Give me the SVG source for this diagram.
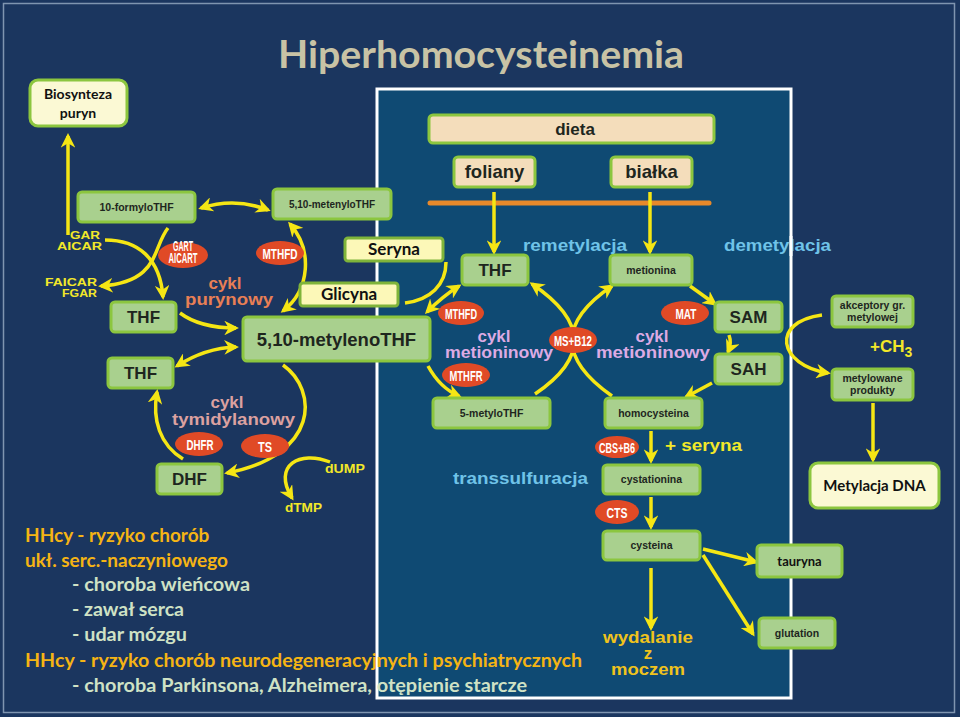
<svg xmlns="http://www.w3.org/2000/svg" width="960" height="717" viewBox="0 0 960 717">
<style>
.box{fill:#a9d08e;stroke:#8cc63f;stroke-width:3}
.cream{fill:#fbf9d4;stroke:#8cc63f;stroke-width:3}
.peach{fill:#f4ddbb;stroke:#8cc63f;stroke-width:3}
.yel{fill:#fcf8b8;stroke:#7fb43a;stroke-width:3}
.ell{fill:#e04a26}
.t{font-family:"Liberation Sans",Arial,sans-serif;font-weight:bold;fill:#1e261e;text-anchor:middle}
.c{font-family:Lato,"Liberation Sans",sans-serif;font-weight:bold;fill:#111;text-anchor:middle}
.e{font-family:"Liberation Sans",Arial,sans-serif;font-weight:bold;fill:#fff;text-anchor:middle;font-size:15px}
.lbl{font-family:"Liberation Sans",Arial,sans-serif;font-weight:bold;font-size:17px}
.ylw{font-family:"Liberation Sans",Arial,sans-serif;font-weight:bold;fill:#f2e829}
.arr{fill:none;stroke:#f5e614;stroke-width:3.5;marker-end:url(#ah)}
.dbl{fill:none;stroke:#f5e614;stroke-width:3.5;marker-end:url(#ah);marker-start:url(#ah)}
.ln{fill:none;stroke:#f5e614;stroke-width:3.5}
.bt{font-family:Lato,"Liberation Sans",sans-serif;font-weight:bold;font-size:19px}
</style>
<defs>
<marker id="ah" viewBox="0 0 10 10" refX="8" refY="5" markerWidth="4.2" markerHeight="4.2" orient="auto-start-reverse" markerUnits="strokeWidth">
<path d="M0,0 L10,5 L0,10 L3,5 z" fill="#f5e614"/>
</marker>
</defs>
<rect x="0" y="0" width="960" height="717" fill="#1b365f"/>
<rect x="3.5" y="3.5" width="951" height="709" fill="none" stroke="#7f95b0" stroke-width="1.5"/>
<rect id="panel" x="377" y="89" width="414" height="609" fill="#0f4a73" stroke="#ffffff" stroke-width="3"/>
<text x="278" y="68" font-family="Lato,'Liberation Sans',sans-serif" font-weight="bold" font-size="38" fill="#c8c3a5" textLength="406" lengthAdjust="spacingAndGlyphs">Hiperhomocysteinemia</text>
<line x1="430" y1="203" x2="709" y2="203" stroke="#e8892a" stroke-width="5" stroke-linecap="round"/>
<g id="connectors">
<path class="arr" d="M68,235 L68,136"/>
<path class="arr" d="M105,240 C138,240 160,258 163,297"/>
<path class="arr" d="M168,228 C152,248 160,282 101,286"/>
<path class="dbl" d="M201,208 Q235,197 268,210"/>
<path class="dbl" d="M290,224 C313,250 310,290 283,311"/>
<path class="arr" d="M180,313 Q200,328 236,328"/>
<path class="dbl" d="M236,347 Q205,348 177,366"/>
<path class="arr" d="M283,365 C318,390 320,455 227,473"/>
<path class="arr" d="M183,459 C160,445 152,420 157,392"/>
<path class="arr" d="M330,462 C300,450 272,465 292,498"/>
<path class="ln" d="M446,262 C446,285 430,300 405,303"/>
<path class="dbl" d="M427,312 Q443,296 459,286"/>
<path class="arr" d="M428,366 Q440,388 459,396"/>
<path class="arr" d="M494,192 L494,252"/>
<path class="arr" d="M650,192 L650,252"/>
<path class="arr" d="M535,394 Q615,340 532,284"/>
<path class="arr" d="M612,396 Q532,340 612,286"/>
<path class="arr" d="M690,286 L715,304"/>
<path class="arr" d="M729,335 Q732,343 728,352"/>
<path class="arr" d="M712,383 L686,397"/>
<path class="arr" d="M651,431 L651,461"/>
<path class="arr" d="M651,497 L651,527"/>
<path class="arr" d="M703,549 L756,562"/>
<path class="arr" d="M703,555 L753,634"/>
<path class="arr" d="M651,568 L651,628"/>
<path class="arr" d="M822,315 C770,322 778,365 828,373"/>
<path class="arr" d="M873,403 L873,460"/>
</g>
<g id="bios"><rect class="cream" x="30" y="80" width="97" height="46" rx="8"/><text class="c" x="78" y="99" font-size="14">Biosynteza</text><text class="c" x="78" y="118" font-size="14">puryn</text></g>
<g id="formylo"><rect class="box" x="78" y="192" width="117" height="30" rx="4"/><text class="t" x="136.5" y="211" font-size="10.5">10-formyloTHF</text></g>
<g id="metenylo"><rect class="box" x="273" y="189" width="118" height="30" rx="4"/><text class="t" x="332" y="208" font-size="10">5,10-metenyloTHF</text></g>
<g id="thf1"><rect class="box" x="111" y="302" width="65" height="30" rx="4"/><text class="t" x="143.5" y="323" font-size="17">THF</text></g>
<g id="thf2"><rect class="box" x="108" y="358" width="65" height="30" rx="4"/><text class="t" x="140.5" y="379" font-size="17">THF</text></g>
<g id="metyleno"><rect class="box" x="243" y="317" width="187" height="44" rx="4"/><text class="t" x="336.5" y="346" font-size="18.5">5,10-metylenoTHF</text></g>
<g id="dhf"><rect class="box" x="157" y="464" width="65" height="30" rx="4"/><text class="t" x="189.5" y="485" font-size="17">DHF</text></g>
<g id="seryna"><rect class="yel" x="345" y="238" width="98" height="23" rx="3"/><text class="c" x="394" y="255" font-size="17">Seryna</text></g>
<g id="glicyna"><rect class="yel" x="300" y="283" width="98" height="23" rx="3"/><text class="c" x="349" y="300" font-size="17">Glicyna</text></g>
<g id="dieta"><rect class="peach" x="429" y="115" width="285" height="28" rx="4"/><text class="t" x="575" y="135" font-size="17">dieta</text></g>
<g id="foliany"><rect class="peach" x="454" y="157" width="81" height="30" rx="4"/><text class="t" x="494.5" y="178" font-size="18.5">foliany</text></g>
<g id="bialka"><rect class="peach" x="611" y="157" width="81" height="30" rx="4"/><text class="t" x="651.5" y="178" font-size="18.5">białka</text></g>
<g id="thf3"><rect class="box" x="462" y="255" width="66" height="30" rx="4"/><text class="t" x="495" y="276" font-size="17">THF</text></g>
<g id="metionina"><rect class="box" x="610" y="255" width="82" height="30" rx="4"/><text class="t" x="651" y="274" font-size="10.5">metionina</text></g>
<g id="metyloTHF"><rect class="box" x="433" y="398" width="117" height="30" rx="4"/><text class="t" x="491.5" y="417" font-size="10.5">5-metyloTHF</text></g>
<g id="homocysteina"><rect class="box" x="605" y="398" width="97" height="30" rx="4"/><text class="t" x="653.5" y="417" font-size="10.5">homocysteina</text></g>
<g id="sam"><rect class="box" x="715" y="302" width="67" height="30" rx="4"/><text class="t" x="748.5" y="323" font-size="17">SAM</text></g>
<g id="sah"><rect class="box" x="715" y="354" width="67" height="30" rx="4"/><text class="t" x="748.5" y="375" font-size="17">SAH</text></g>
<g id="cystationina"><rect class="box" x="603" y="465" width="97" height="29" rx="4"/><text class="t" x="651.5" y="483" font-size="10.5">cystationina</text></g>
<g id="cysteina"><rect class="box" x="603" y="531" width="97" height="29" rx="4"/><text class="t" x="651.5" y="549" font-size="10.5">cysteina</text></g>
<g id="tauryna"><rect class="box" x="757" y="545" width="85" height="32" rx="4"/><text class="c" x="799.5" y="566" font-size="13">tauryna</text></g>
<g id="glutation"><rect class="box" x="759" y="618" width="76" height="30" rx="4"/><text class="t" x="797" y="637" font-size="10.5">glutation</text></g>
<g id="akceptory"><rect class="box" x="832" y="296" width="81" height="31" rx="4"/><text class="t" x="872.5" y="309" font-size="10.5">akceptory gr.</text><text class="t" x="872.5" y="321" font-size="10.5">metylowej</text></g>
<g id="metylowane"><rect class="box" x="832" y="369" width="81" height="31" rx="4"/><text class="t" x="872.5" y="382" font-size="10.5">metylowane</text><text class="t" x="872.5" y="394" font-size="10.5">produkty</text></g>
<g id="metylacja"><rect class="cream" x="810" y="463" width="129" height="45" rx="8"/><text class="c" x="874.5" y="491" font-size="15">Metylacja DNA</text></g>
<g id="enzymes">
<ellipse class="ell" cx="183" cy="255" rx="25" ry="13"/><text class="e" x="183" y="251" font-size="8" textLength="20" lengthAdjust="spacingAndGlyphs">GART</text><text class="e" x="183" y="263" font-size="8" textLength="29" lengthAdjust="spacingAndGlyphs">AICART</text>
<ellipse class="ell" cx="280" cy="253" rx="24" ry="12"/><text class="e" x="280" y="259" textLength="35" lengthAdjust="spacingAndGlyphs">MTHFD</text>
<ellipse class="ell" cx="461" cy="313" rx="23" ry="12"/><text class="e" x="461" y="319" textLength="32" lengthAdjust="spacingAndGlyphs">MTHFD</text>
<ellipse class="ell" cx="466" cy="375" rx="24" ry="12"/><text class="e" x="466" y="381" textLength="33" lengthAdjust="spacingAndGlyphs">MTHFR</text>
<ellipse class="ell" cx="573" cy="340" rx="24" ry="13"/><text class="e" x="573" y="346" textLength="38" lengthAdjust="spacingAndGlyphs">MS+B12</text>
<ellipse class="ell" cx="685" cy="313" rx="24" ry="12"/><text class="e" x="686" y="319" textLength="21" lengthAdjust="spacingAndGlyphs">MAT</text>
<ellipse class="ell" cx="199" cy="444" rx="24" ry="12"/><text class="e" x="200" y="450" textLength="27" lengthAdjust="spacingAndGlyphs">DHFR</text>
<ellipse class="ell" cx="265" cy="446" rx="24" ry="12"/><text class="e" x="265" y="452" textLength="14" lengthAdjust="spacingAndGlyphs">TS</text>
<ellipse class="ell" cx="617" cy="447" rx="22" ry="11"/><text class="e" x="617" y="453" textLength="36" lengthAdjust="spacingAndGlyphs">CBS+B6</text>
<ellipse class="ell" cx="617" cy="512" rx="22" ry="12"/><text class="e" x="617" y="518" textLength="21" lengthAdjust="spacingAndGlyphs">CTS</text>
</g>
<g id="labels">
<text class="ylw" x="70" y="238.5" font-size="10" textLength="30" lengthAdjust="spacingAndGlyphs">GAR</text>
<text class="ylw" x="57" y="249.5" font-size="10" textLength="45" lengthAdjust="spacingAndGlyphs">AICAR</text>
<text class="ylw" x="45" y="286" font-size="10" textLength="52" lengthAdjust="spacingAndGlyphs">FAICAR</text>
<text class="ylw" x="62" y="297" font-size="10" textLength="35" lengthAdjust="spacingAndGlyphs">FGAR</text>
<text class="ylw" x="325" y="473" font-size="12" textLength="40" lengthAdjust="spacingAndGlyphs">dUMP</text>
<text class="ylw" x="285" y="512" font-size="12" textLength="37" lengthAdjust="spacingAndGlyphs">dTMP</text>
<text class="lbl" x="225" y="289" fill="#e87f55" text-anchor="middle">cykl</text>
<text class="lbl" x="185" y="305" fill="#e87f55" textLength="88" lengthAdjust="spacingAndGlyphs">purynowy</text>
<text class="lbl" x="227" y="408" fill="#dca1a0" text-anchor="middle">cykl</text>
<text class="lbl" x="172" y="425" fill="#dca1a0" textLength="123" lengthAdjust="spacingAndGlyphs">tymidylanowy</text>
<text class="lbl" x="494" y="342" fill="#dcaae4" text-anchor="middle">cykl</text>
<text class="lbl" x="445" y="358" fill="#dcaae4" textLength="108" lengthAdjust="spacingAndGlyphs">metioninowy</text>
<text class="lbl" x="652" y="342" fill="#dcaae4" text-anchor="middle">cykl</text>
<text class="lbl" x="596" y="358" fill="#dcaae4" textLength="114" lengthAdjust="spacingAndGlyphs">metioninowy</text>
<text class="lbl" x="523" y="251" fill="#6fc3e8" textLength="104" lengthAdjust="spacingAndGlyphs">remetylacja</text>
<text class="lbl" x="724" y="251" fill="#6fc3e8" textLength="107" lengthAdjust="spacingAndGlyphs">demetylacja</text>
<text class="lbl" x="453" y="484" fill="#6fc3e8" textLength="135" lengthAdjust="spacingAndGlyphs">transsulfuracja</text>
<text class="lbl" x="665" y="451" fill="#f2e829" textLength="77" lengthAdjust="spacingAndGlyphs">+ seryna</text>
<text class="lbl" x="870" y="352" fill="#f2e829">+CH<tspan font-size="14" dy="5">3</tspan></text>
<text class="lbl" x="648" y="643" fill="#f0c31c" text-anchor="middle" textLength="90" lengthAdjust="spacingAndGlyphs">wydalanie</text>
<text class="lbl" x="648" y="659" fill="#f0c31c" text-anchor="middle">z</text>
<text class="lbl" x="648" y="675" fill="#f0c31c" text-anchor="middle" textLength="74" lengthAdjust="spacingAndGlyphs">moczem</text>
</g>
<line x1="791" y1="236" x2="791" y2="256" stroke="#ffffff" stroke-width="3"/>
<g id="notes">
<text class="bt" x="25" y="542" fill="#f5b414" font-size="16">HHcy  - ryzyko chorób</text>
<text class="bt" x="25" y="567" fill="#f5b414" font-size="16">ukł.  serc.-naczyniowego</text>
<text class="bt" x="72" y="591" fill="#cfe2c5" textLength="178" lengthAdjust="spacingAndGlyphs">- choroba wieńcowa</text>
<text class="bt" x="72" y="616" fill="#cfe2c5" textLength="112" lengthAdjust="spacingAndGlyphs">- zawał serca</text>
<text class="bt" x="72" y="641" fill="#cfe2c5" textLength="115" lengthAdjust="spacingAndGlyphs">- udar mózgu</text>
<text class="bt" x="25" y="667" fill="#f5b414" textLength="557" lengthAdjust="spacingAndGlyphs">HHcy  - ryzyko chorób neurodegeneracyjnych i psychiatrycznych</text>
<text class="bt" x="72" y="692" fill="#cfe2c5" textLength="455" lengthAdjust="spacingAndGlyphs">- choroba Parkinsona, Alzheimera, otępienie starcze</text>
</g>
</svg>
